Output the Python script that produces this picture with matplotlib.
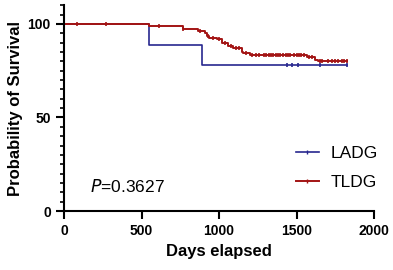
import numpy as np
import matplotlib.pyplot as plt
from matplotlib.ticker import MultipleLocator
from matplotlib.lines import Line2D

plt.rcParams['font.family'] = ['Liberation Sans', 'DejaVu Sans']

# LADG: tiempos de evento y supervivencia (%)
ladg_t = [0, 548, 888, 1824]
ladg_s = [100, 89.0, 77.8, 77.8]
ladg_cens = [1441, 1473, 1510, 1654, 1824]

# TLDG
tldg_t = [0, 548, 770, 867, 910, 920, 938, 985, 1017, 1060, 1092, 1146, 1157, 1200,
          1566, 1619, 1639, 1824]
tldg_s = [100, 98.9, 97.2, 96.4, 95.0, 93.6, 92.5, 91.8, 89.7, 88.2, 87.0, 85.2, 84.3, 83.4,
          82.2, 80.7, 80.0, 80.0]
tldg_cens = [84, 271, 613, 770, 880, 930, 960, 1000, 1035, 1075, 1110, 1130, 1175,
             1215, 1240, 1260, 1290, 1305, 1320, 1335, 1350, 1365, 1380, 1395, 1410,
             1430, 1445, 1460, 1480, 1500, 1515, 1530, 1545, 1580, 1600, 1650, 1665,
             1700, 1730, 1750, 1770, 1790, 1805, 1824]

col_ladg = '#27278f'
col_tldg = '#a31414'


def surv_at(t, times, surv):
    idx = np.searchsorted(times, t, side='right') - 1
    return np.array(surv)[idx]


fig = plt.figure(figsize=(3.93, 2.70), dpi=100)
ax = fig.add_axes([0.163, 0.2185, 0.789, 0.762])

ax.step(ladg_t, ladg_s, where='post', color=col_ladg, lw=1.2)
ax.plot(ladg_cens, surv_at(ladg_cens, ladg_t, ladg_s), ls='none', marker='|',
        ms=3.2, mew=1.2, color=col_ladg)
ax.step(tldg_t, tldg_s, where='post', color=col_tldg, lw=1.4)
ax.plot(tldg_cens, surv_at(tldg_cens, tldg_t, tldg_s), ls='none', marker='|',
        ms=3.2, mew=1.2, color=col_tldg)

ax.set_xlim(0, 2000)
ax.set_ylim(0, 110)
ax.set_xticks([0, 500, 1000, 1500, 2000])
ax.set_yticks([0, 50, 100])
ax.yaxis.set_minor_locator(MultipleLocator(5))
for s in ['top', 'right']:
    ax.spines[s].set_visible(False)
for s in ['left', 'bottom']:
    ax.spines[s].set_linewidth(1.5)
ax.tick_params(which='major', length=6, width=1.5, labelsize=10)
ax.tick_params(which='minor', length=3, width=1.2)
for lab in ax.get_xticklabels() + ax.get_yticklabels():
    lab.set_fontweight('bold')

ax.set_xlabel('Days elapsed', fontsize=12, fontweight='bold', labelpad=4)
ax.set_ylabel('Probability of Survival', fontsize=12, fontweight='bold', labelpad=3)

ax.text(0.085, 0.12, r'$\it{P}$=0.3627', transform=ax.transAxes, fontsize=12.5,
        va='center')

handles = [Line2D([0], [0], color=col_ladg, lw=1.2, marker='|', ms=3.5),
           Line2D([0], [0], color=col_tldg, lw=1.4, marker='|', ms=3.5)]
ax.legend(handles, ['LADG', 'TLDG'], loc='center left', bbox_to_anchor=(0.748, 0.209),
          frameon=False, fontsize=12.5, handlelength=1.3, handletextpad=0.7,
          labelspacing=0.75, borderpad=0, borderaxespad=0)

fig.savefig('out.png', dpi=100)
